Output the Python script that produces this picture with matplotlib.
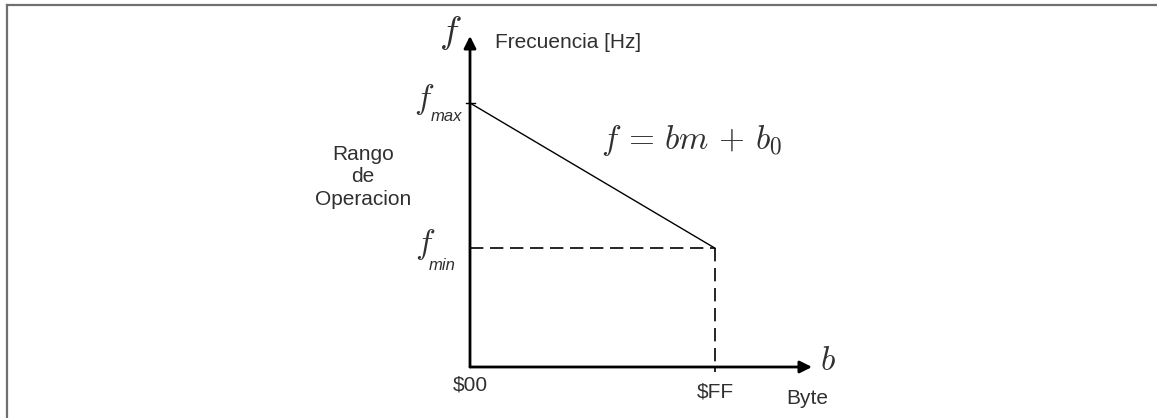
import matplotlib
matplotlib.use("Agg")
import matplotlib.pyplot as plt
from matplotlib.lines import Line2D

plt.rcParams['font.family'] = ['Liberation Sans', 'DejaVu Sans']
plt.rcParams['mathtext.fontset'] = 'cm'

# data: two end points of the byte -> frequency line
byte_vals = [0, 255]
freq_vals = [1.0, 0.45]          # f_max, f_min (normalised)
tick_labels = ['\\$00', '\\$FF']

W, H = 1157, 418
fig = plt.figure(figsize=(W / 100, H / 100), dpi=100)
ax = fig.add_axes([0, 0, 1, 1])
ax.axis('off')

# pixel layout: origin at (470, 367), $FF at x=715, f_max at y=103
x0, y0 = 470, 367
sx = (715 - x0) / byte_vals[1]
sy = (y0 - 103) / freq_vals[0]
ax.set_xlim(-x0 / sx, (W - x0) / sx)
ax.set_ylim(-(H - y0) / sy, y0 / sy)


def px(x, y):
    # pixel position -> data coords
    return (x - x0) / sx, (y0 - y) / sy


fmax, fmin = freq_vals
bmax = byte_vals[1]

# axes with arrows
arrow = dict(arrowstyle='-|>', lw=2, color='black', mutation_scale=18, shrinkA=0, shrinkB=0)
ax.annotate('', xy=px(470, 36), xytext=(0, 0), arrowprops=arrow)
ax.annotate('', xy=px(812, 367), xytext=(0, 0), arrowprops=arrow)

# main line and dashed guides
ax.plot(byte_vals, freq_vals, color='black', lw=1.0)
ax.plot([0, bmax], [fmin, fmin], color='black', lw=1.2, ls=(0, (8, 4)))
ax.plot([bmax, bmax], [fmin, px(0, 372)[1]], color='black', lw=1.2, ls=(0, (8, 4)))
ax.plot([px(466, 0)[0], px(475, 0)[0]], [fmax, fmax], color='black', lw=1.0)

tc = '#303030'
ax.text(*px(495, 43), 'Frecuencia [Hz]', fontsize=15, color=tc, va='center', ha='left')
ax.text(*px(450, 33), r'$f$', fontsize=27, color=tc, ha='center', va='center')
ax.text(*px(601, 141), r'$f\,=\,bm\,+\,b_0$', fontsize=24, color=tc, ha='left', va='center')
ax.text(*px(363, 177), 'Rango\nde\nOperacion', fontsize=15, color=tc,
        ha='center', va='center', multialignment='center', linespacing=1.22)

ax.text(*px(424, 100), r'$f$', fontsize=24, color=tc, ha='center', va='center')
ax.text(*px(446, 117), 'max', fontsize=12, style='italic', color=tc, ha='center', va='center')
ax.text(*px(425, 244), r'$f$', fontsize=24, color=tc, ha='center', va='center')
ax.text(*px(442, 266), 'min', fontsize=12, style='italic', color=tc, ha='center', va='center')

ax.text(byte_vals[0], px(0, 385)[1], tick_labels[0], fontsize=15, color=tc, ha='center', va='center')
ax.text(bmax, px(0, 392)[1], tick_labels[1], fontsize=15, color=tc, ha='center', va='center')
ax.text(*px(807, 398), 'Byte', fontsize=15, color=tc, ha='center', va='center')
ax.text(*px(828, 361), r'$b$', fontsize=24, color=tc, ha='center', va='center')

# gray frame on top and left
fig.add_artist(Line2D([6.5 / W, 6.5 / W], [0, 1 - 4.5 / H], transform=fig.transFigure, color='#707070', lw=1.6))
fig.add_artist(Line2D([6.5 / W, 1], [1 - 4.5 / H, 1 - 4.5 / H], transform=fig.transFigure, color='#707070', lw=1.6))

fig.savefig('out.png', dpi=100)
